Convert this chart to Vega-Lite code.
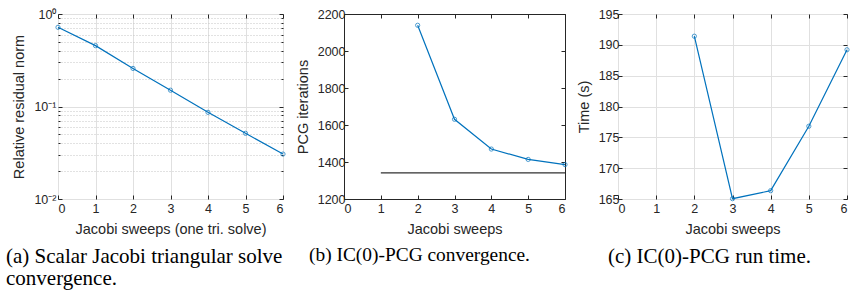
{
  "$schema": "https://vega.github.io/schema/vega-lite/v6.json",
  "padding": {"left": 5, "top": 7, "right": 0, "bottom": 0},
  "background": "white",
  "bounds": "flush",
  "spacing": 61,
  "datasets": {
    "resid": [
      {"sweeps": 0, "norm": 0.718},
      {"sweeps": 1, "norm": 0.455},
      {"sweeps": 2, "norm": 0.258},
      {"sweeps": 3, "norm": 0.150},
      {"sweeps": 4, "norm": 0.0865},
      {"sweeps": 5, "norm": 0.0513},
      {"sweeps": 6, "norm": 0.0306}
    ],
    "pcg": [
      {"sweeps": 2, "iterations": 2139},
      {"sweeps": 3, "iterations": 1631},
      {"sweeps": 4, "iterations": 1470},
      {"sweeps": 5, "iterations": 1414},
      {"sweeps": 6, "iterations": 1386}
    ],
    "ref": [
      {"sweeps": 1, "iterations": 1341},
      {"sweeps": 6, "iterations": 1341}
    ],
    "time": [
      {"sweeps": 2, "seconds": 191.4},
      {"sweeps": 3, "seconds": 165.05},
      {"sweeps": 4, "seconds": 166.35},
      {"sweeps": 5, "seconds": 176.8},
      {"sweeps": 6, "seconds": 189.2}
    ]
  },
  "hconcat": [
    {
      "width": 225,
      "height": 185,
      "title": {"text": ["(a) Scalar Jacobi triangular solve", "convergence."], "orient": "bottom", "anchor": "start", "frame": "group", "dx": -52, "offset": 10, "lineHeight": 22, "fontSize": 21},
      "layer": [
        {
          "data": {"name": "resid"},
          "mark": {"type": "line", "color": "#0072BD", "strokeWidth": 1.2},
          "encoding": {
            "x": {"field": "sweeps", "type": "quantitative", "scale": {"domain": [0, 6], "nice": false},
              "axis": {"orient": "bottom", "values": [0, 1, 2, 3, 4, 5, 6], "title": "Jacobi sweeps (one tri. solve)"}},
            "y": {"field": "norm", "type": "quantitative", "scale": {"type": "log", "domain": [0.01, 1], "nice": false},
              "axis": {"orient": "left", "title": "Relative residual norm",
                "values": [0.01, 0.02, 0.03, 0.04, 0.05, 0.06, 0.07, 0.08, 0.09, 0.1, 0.2, 0.3, 0.4, 0.5, 0.6, 0.7, 0.8, 0.9, 1],
                "labelExpr": "datum.value == 1 ? '10⁰' : (abs(datum.value - 0.1) < 1e-9 ? '10⁻¹' : (abs(datum.value - 0.01) < 1e-9 ? '10⁻²' : ''))",
                "labelPadding": 6,
                "gridDash": {"condition": {"test": "datum.value == 1 || abs(datum.value - 0.1) < 1e-9 || abs(datum.value - 0.01) < 1e-9", "value": []}, "value": [1, 2]},
                "gridColor": {"condition": {"test": "datum.value == 1 || abs(datum.value - 0.1) < 1e-9 || abs(datum.value - 0.01) < 1e-9", "value": "#e0e0e0"}, "value": "#c4c4c4"},
                "tickSize": {"condition": {"test": "datum.value == 1 || abs(datum.value - 0.1) < 1e-9 || abs(datum.value - 0.01) < 1e-9", "value": -4}, "value": -2}}}
          }
        },
        {
          "data": {"name": "resid"},
          "mark": {"type": "point", "shape": "circle", "filled": false, "color": "#0072BD", "size": 18, "strokeWidth": 1},
          "encoding": {
            "x": {"field": "sweeps", "type": "quantitative", "scale": {"domain": [0, 6], "nice": false},
              "axis": {"orient": "top", "values": [0, 1, 2, 3, 4, 5, 6], "labels": false, "grid": false, "title": null}},
            "y": {"field": "norm", "type": "quantitative", "scale": {"type": "log", "domain": [0.01, 1], "nice": false},
              "axis": {"orient": "right", "labels": false, "grid": false, "title": null,
                "values": [0.01, 0.02, 0.03, 0.04, 0.05, 0.06, 0.07, 0.08, 0.09, 0.1, 0.2, 0.3, 0.4, 0.5, 0.6, 0.7, 0.8, 0.9, 1],
                "tickSize": {"condition": {"test": "datum.value == 1 || abs(datum.value - 0.1) < 1e-9 || abs(datum.value - 0.01) < 1e-9", "value": -4}, "value": -2}}}
          }
        }
      ],
      "resolve": {"axis": {"x": "independent", "y": "independent"}}
    },
    {
      "bounds": "flush",
      "spacing": 53,
      "hconcat": [
        {
          "width": 221,
          "height": 185,
          "title": {"text": "(b) IC(0)-PCG convergence.", "orient": "bottom", "anchor": "start", "frame": "group", "dx": -35, "offset": 10, "fontSize": 19.4},
          "layer": [
            {
              "data": {"name": "ref"},
              "mark": {"type": "line", "color": "#303030", "strokeWidth": 1.2},
              "encoding": {
                "x": {"field": "sweeps", "type": "quantitative", "scale": {"domain": [0, 6], "nice": false}, "axis": null},
                "y": {"field": "iterations", "type": "quantitative", "scale": {"domain": [1200, 2200], "nice": false}, "axis": null}
              }
            },
            {
              "data": {"name": "pcg"},
              "mark": {"type": "line", "color": "#0072BD", "strokeWidth": 1.2},
              "encoding": {
                "x": {"field": "sweeps", "type": "quantitative", "scale": {"domain": [0, 6], "nice": false},
                  "axis": {"orient": "bottom", "values": [0, 1, 2, 3, 4, 5, 6], "title": "Jacobi sweeps"}},
                "y": {"field": "iterations", "type": "quantitative", "scale": {"domain": [1200, 2200], "nice": false},
                  "axis": {"orient": "left", "values": [1200, 1400, 1600, 1800, 2000, 2200], "title": "PCG iterations", "format": "d"}}
              }
            },
            {
              "data": {"name": "pcg"},
              "mark": {"type": "point", "shape": "circle", "filled": false, "color": "#0072BD", "size": 18, "strokeWidth": 1},
              "encoding": {
                "x": {"field": "sweeps", "type": "quantitative", "scale": {"domain": [0, 6], "nice": false},
                  "axis": {"orient": "top", "values": [0, 1, 2, 3, 4, 5, 6], "labels": false, "grid": false, "title": null}},
                "y": {"field": "iterations", "type": "quantitative", "scale": {"domain": [1200, 2200], "nice": false},
                  "axis": {"orient": "right", "values": [1200, 1400, 1600, 1800, 2000, 2200], "labels": false, "grid": false, "title": null}}
              }
            }
          ],
          "resolve": {"axis": {"x": "independent", "y": "independent"}}
        },
        {
          "width": 229,
          "height": 185,
          "title": {"text": "(c) IC(0)-PCG run time.", "orient": "bottom", "anchor": "start", "frame": "group", "dx": -10, "offset": 10, "fontSize": 21},
          "layer": [
            {
              "data": {"name": "time"},
              "mark": {"type": "line", "color": "#0072BD", "strokeWidth": 1.2},
              "encoding": {
                "x": {"field": "sweeps", "type": "quantitative", "scale": {"domain": [0, 6], "nice": false},
                  "axis": {"orient": "bottom", "values": [0, 1, 2, 3, 4, 5, 6], "title": "Jacobi sweeps"}},
                "y": {"field": "seconds", "type": "quantitative", "scale": {"domain": [165, 195], "nice": false},
                  "axis": {"orient": "left", "values": [165, 170, 175, 180, 185, 190, 195], "title": "Time (s)"}}
              }
            },
            {
              "data": {"name": "time"},
              "mark": {"type": "point", "shape": "circle", "filled": false, "color": "#0072BD", "size": 18, "strokeWidth": 1},
              "encoding": {
                "x": {"field": "sweeps", "type": "quantitative", "scale": {"domain": [0, 6], "nice": false},
                  "axis": {"orient": "top", "values": [0, 1, 2, 3, 4, 5, 6], "labels": false, "grid": false, "title": null}},
                "y": {"field": "seconds", "type": "quantitative", "scale": {"domain": [165, 195], "nice": false},
                  "axis": {"orient": "right", "values": [165, 170, 175, 180, 185, 190, 195], "labels": false, "grid": false, "title": null}}
              }
            }
          ],
          "resolve": {"axis": {"x": "independent", "y": "independent"}}
        }
      ]
    }
  ],
  "config": {
    "view": {"stroke": "#262626", "strokeWidth": 1},
    "axis": {
      "labelFont": "Liberation Sans", "labelFontSize": 12.5, "labelColor": "#262626",
      "titleFont": "Liberation Sans", "titleFontSize": 14.5, "titleFontWeight": "normal", "titleColor": "#262626",
      "gridColor": "#e0e0e0", "tickColor": "#262626", "tickSize": -4, "domain": false,
      "labelPadding": 3, "titlePadding": 7
    },
    "axisX": {"labelPadding": 7, "titlePadding": 8},
    "title": {"font": "Liberation Serif", "fontSize": 20.5, "fontWeight": "normal", "color": "#000000"}
  }
}
